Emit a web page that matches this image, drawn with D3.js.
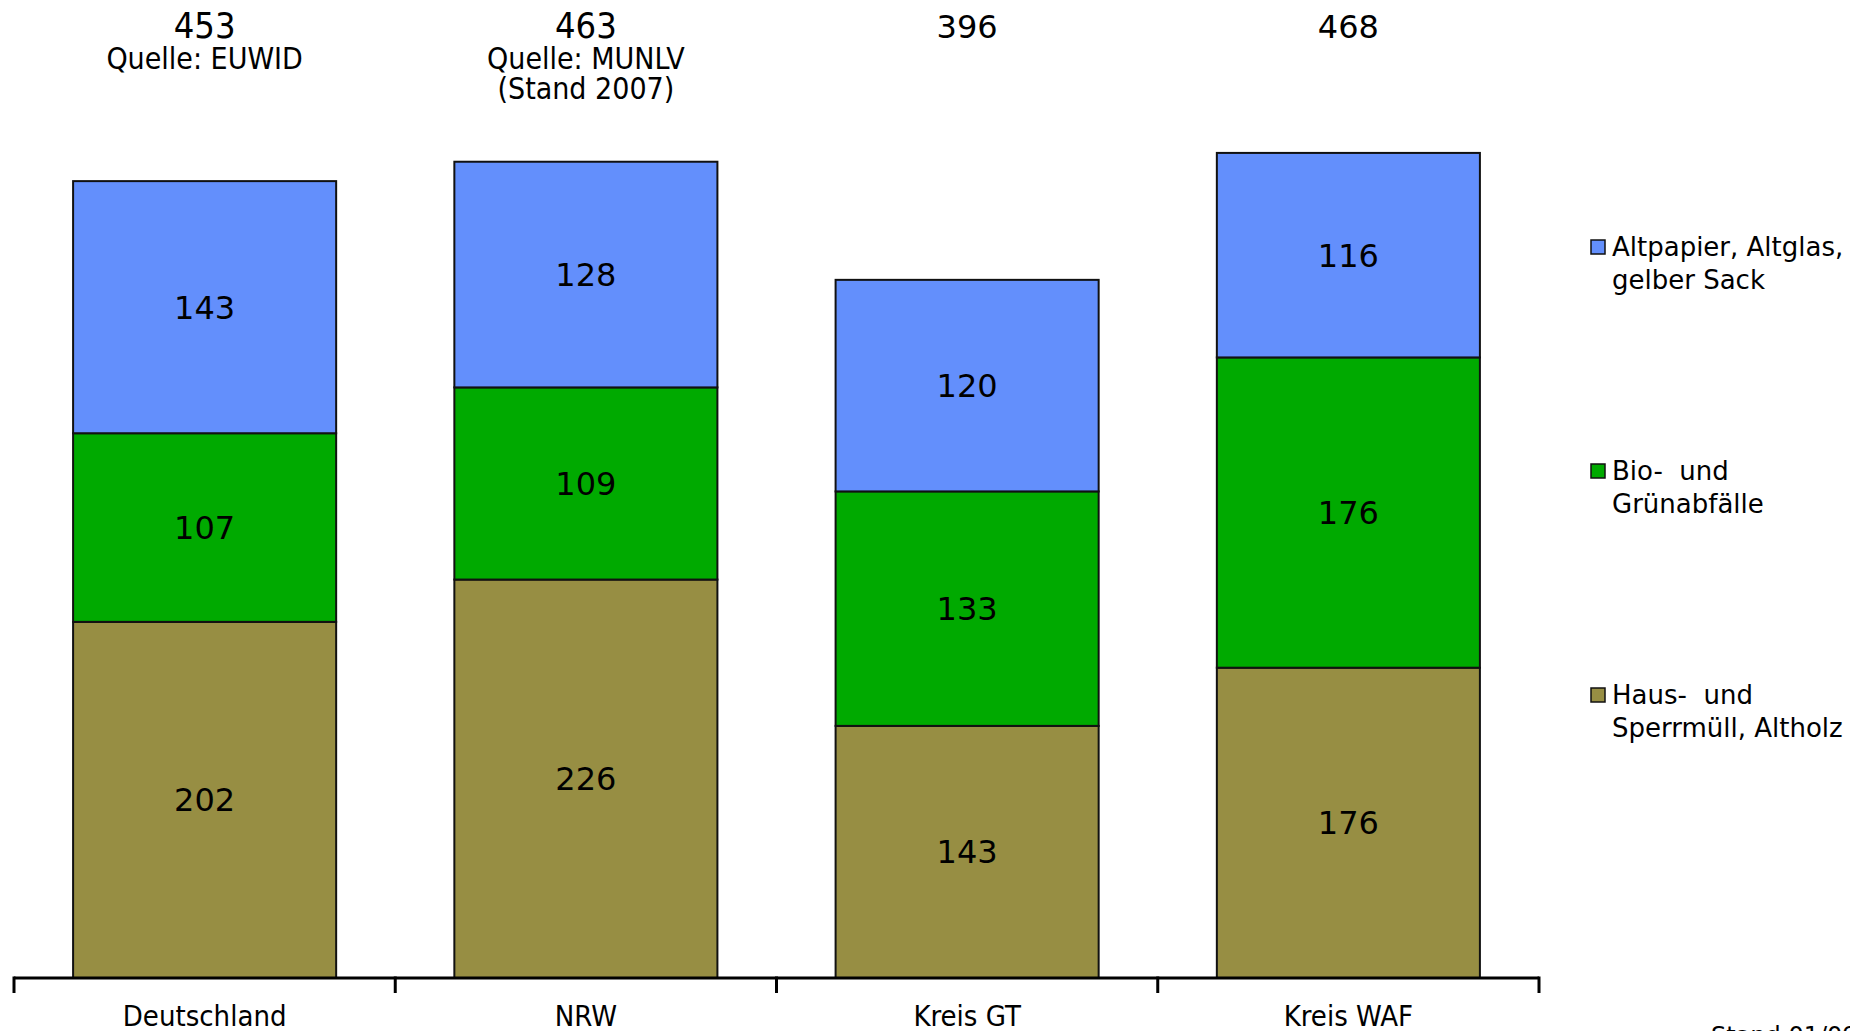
<!DOCTYPE html>
<html>
<head>
<meta charset="utf-8">
<script src="https://cdn.jsdelivr.net/npm/d3@7"></script>
<style>
  html, body { margin: 0; padding: 0; background: #fff; overflow: hidden; }
  svg { display: block; }
</style>
</head>
<body>
<svg id="chart" width="1850" height="1031"></svg>
<script>
// Waste quantities per inhabitant (kg/E*a) by region
const categories = ["Deutschland", "NRW", "Kreis GT", "Kreis WAF"];
const totals = [453, 463, 396, 468];
const notes = [["Quelle: EUWID"], ["Quelle: MUNLV", "(Stand 2007)"], [], []];
const hausSperrmuell = [202, 226, 143, 176];
const bioGruen = [107, 109, 133, 176];
const altpapierGlas = [143, 128, 120, 116];
const seriesNames = [
  ["Haus- und", "Sperrmüll, Altholz"],
  ["Bio- und", "Grünabfälle"],
  ["Altpapier, Altglas,", "gelber Sack"]
];
const seriesColors = ["#978e43", "#00aa00", "#638ffc"];
const standText = "Stand 01/09";

const svg = d3.select("#chart");
const axisY = 978;
const pxPerUnit = 1.763;

const x = d3.scaleBand().domain(categories).range([14, 1539]).paddingInner(0.31).paddingOuter(0.155);
const y = d3.scaleLinear().domain([0, 500]).range([axisY, axisY - 500 * pxPerUnit]);

const rows = categories.map((c, i) => ({
  cat: c, s0: hausSperrmuell[i], s1: bioGruen[i], s2: altpapierGlas[i]
}));
const stack = d3.stack().keys(["s0", "s1", "s2"]);
const layers = stack(rows);

const font = "'DejaVu Sans', Verdana, sans-serif";
const fontC = "'DejaVu Sans Condensed', 'DejaVu Sans', sans-serif";

// stacked bars
const barG = svg.append("g");
layers.forEach((layer, li) => {
  barG.selectAll(null).data(layer).enter().append("rect")
    .attr("x", d => x(d.data.cat))
    .attr("width", x.bandwidth())
    .attr("y", d => y(d[1]))
    .attr("height", d => y(d[0]) - y(d[1]))
    .attr("fill", seriesColors[li])
    .attr("stroke", "#111")
    .attr("stroke-width", 2);
  barG.selectAll(null).data(layer).enter().append("text")
    .attr("x", d => x(d.data.cat) + x.bandwidth() / 2)
    .attr("y", d => (y(d[0]) + y(d[1])) / 2)
    .attr("dy", "0.36em")
    .attr("text-anchor", "middle")
    .attr("font-family", font)
    .attr("font-size", 32)
    .attr("fill", "#000")
    .text(d => d[1] - d[0]);
});

// category axis (ticks at category boundaries)
const bounds = d3.range(categories.length + 1).map(i => 14 + i * (1525 / categories.length));
const axisG = svg.append("g");
axisG.append("line")
  .attr("x1", bounds[0]).attr("x2", bounds[bounds.length - 1])
  .attr("y1", axisY).attr("y2", axisY)
  .attr("stroke", "#000").attr("stroke-width", 3);
axisG.selectAll(null).data(bounds).enter().append("line")
  .attr("x1", d => d).attr("x2", d => d)
  .attr("y1", axisY - 1.5).attr("y2", axisY + 15)
  .attr("stroke", "#000").attr("stroke-width", 3);
axisG.selectAll(null).data(categories).enter().append("text")
  .attr("x", d => x(d) + x.bandwidth() / 2)
  .attr("y", 1026)
  .attr("text-anchor", "middle")
  .attr("font-family", fontC)
  .attr("font-size", 29)
  .text(d => d);

// totals above bars
const totalG = svg.append("g");
categories.forEach((c, i) => {
  const cx = x(c) + x.bandwidth() / 2;
  const condensed = notes[i].length > 0;
  totalG.append("text")
    .attr("x", cx).attr("y", 38)
    .attr("text-anchor", "middle")
    .attr("font-family", condensed ? fontC : font)
    .attr("font-size", condensed ? 36 : 32)
    .text(totals[i]);
  notes[i].forEach((line, k) => {
    totalG.append("text")
      .attr("x", cx).attr("y", 69 + k * 30)
      .attr("text-anchor", "middle")
      .attr("font-family", fontC)
      .attr("font-size", 30)
      .text(line);
  });
});

// legend
const legendY = [247, 471, 695];
const legendOrder = [2, 1, 0];
const lg = svg.append("g");
legendOrder.forEach((si, k) => {
  const ly = legendY[k];
  lg.append("rect")
    .attr("x", 1591).attr("y", ly - 7)
    .attr("width", 14).attr("height", 14)
    .attr("fill", seriesColors[si])
    .attr("stroke", "#111").attr("stroke-width", 1.5);
  seriesNames[si].forEach((line, j) => {
    lg.append("text")
      .attr("x", 1612).attr("y", ly + j * 33)
      .attr("dy", "0.36em")
      .attr("font-family", font)
      .attr("font-size", 26)
      .style("white-space", "pre")
      .text(line.replace(" und", "  und"));
  });
});

// date note
svg.append("text")
  .attr("x", 1711).attr("y", 1044)
  .attr("font-family", font)
  .attr("font-size", 24)
  .text(standText);
</script>
</body>
</html>
